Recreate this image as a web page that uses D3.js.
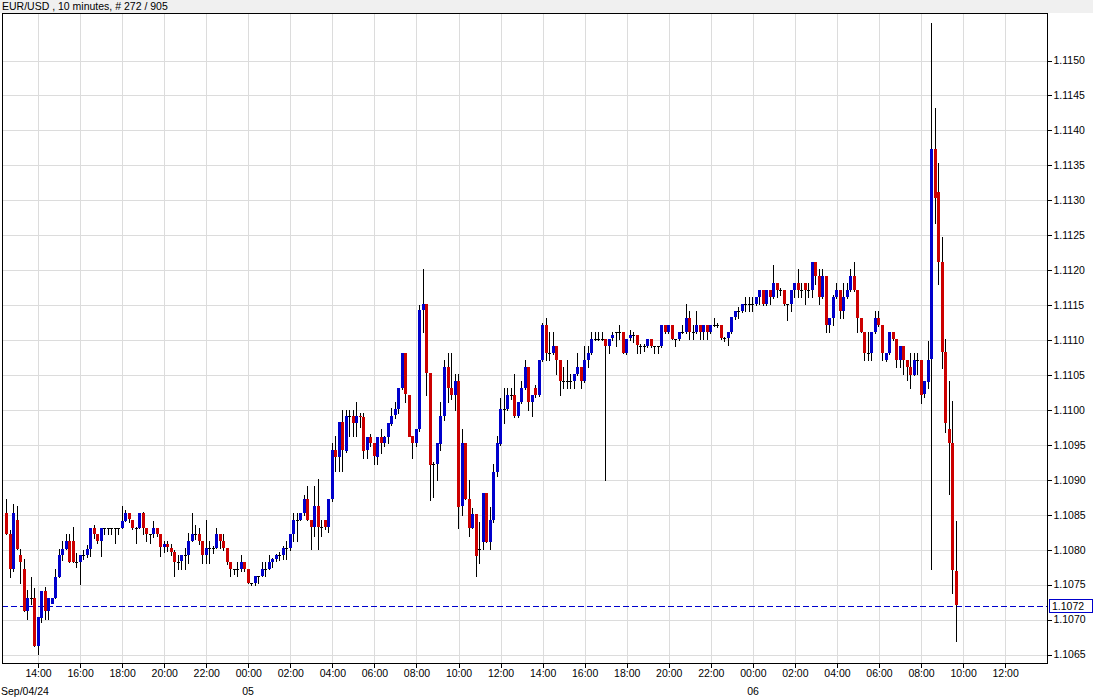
<!DOCTYPE html>
<html><head><meta charset="utf-8">
<script src="https://cdn.jsdelivr.net/npm/d3@7/dist/d3.min.js"></script>
<style>
html,body{margin:0;padding:0;background:#fff;}
svg{display:block;}
text{font-family:"Liberation Sans",Arial,sans-serif;}
</style></head>
<body>
<svg id="chart" width="1093" height="700"></svg>
<script>
const chartTitle = "EUR/USD , 10 minutes, # 272 / 905";
const firstBarTime = "2024-09-04T12:30:00Z";
const barMinutes = 10;

const openPx = [
1.10852,1.10822,1.10772,1.10842,1.10792,1.10772,1.10712,1.10731,1.10731,1.10662,
1.10703,1.10741,1.10712,1.10723,1.10731,1.10761,1.10792,1.10801,1.10812,1.10812,
1.10782,1.10782,1.10792,1.10792,1.10801,1.10831,1.10822,1.10812,1.10831,1.10831,
1.10831,1.10831,1.10831,1.10831,1.10841,1.10852,1.10843,1.10831,1.10831,1.10852,
1.10831,1.10822,1.10822,1.10831,1.10822,1.10803,1.10808,1.10803,1.10797,1.10783,
1.10783,1.10792,1.10792,1.10812,1.10822,1.10822,1.10812,1.10792,1.10802,1.10802,
1.10802,1.10822,1.10812,1.10802,1.10782,1.10772,1.10772,1.10772,1.10782,1.10772,
1.10752,1.10752,1.10762,1.10762,1.10772,1.10772,1.10782,1.10786,1.10792,1.10792,
1.10802,1.10802,1.10822,1.10842,1.10842,1.10852,1.10872,1.10842,1.10832,1.10862,
1.10832,1.10842,1.10832,1.10872,1.10942,1.10932,1.10982,1.10942,1.10992,1.10992,
1.10982,1.10992,1.10990,1.10942,1.10961,1.10952,1.10933,1.10961,1.10952,1.10961,
1.10981,1.10992,1.11001,1.11031,1.11081,1.11022,1.10962,1.10952,1.10972,1.11143,
1.11152,1.11053,1.10922,1.10922,1.10952,1.10992,1.11062,1.11032,1.11022,1.11042,
1.10862,1.10952,1.10872,1.10831,1.10851,1.10801,1.10811,1.10881,1.10811,1.10842,
1.10911,1.10952,1.11002,1.11002,1.11022,1.11022,1.10992,1.11012,1.11032,1.11062,
1.11012,1.11032,1.11022,1.11072,1.11122,1.11082,1.11082,1.11092,1.11072,1.11042,
1.11042,1.11042,1.11042,1.11052,1.11062,1.11042,1.11072,1.11082,1.11102,1.11102,
1.11102,1.11102,1.11092,1.11102,1.11112,1.11112,1.11112,1.11082,1.11102,1.11107,
1.11107,1.11092,1.11092,1.11092,1.11102,1.11092,1.11092,1.11092,1.11122,1.11112,
1.11122,1.11102,1.11102,1.11112,1.11112,1.11132,1.11112,1.11112,1.11122,1.11112,
1.11122,1.11112,1.11122,1.11122,1.11122,1.11103,1.11103,1.11112,1.11133,1.11142,
1.11142,1.11152,1.11152,1.11152,1.11152,1.11162,1.11172,1.11152,1.11172,1.11162,
1.11182,1.11172,1.11172,1.11152,1.11152,1.11172,1.11182,1.11172,1.11182,1.11172,
1.11172,1.11212,1.11192,1.11162,1.11192,1.11122,1.11132,1.11162,1.11172,1.11142,
1.11162,1.11172,1.11192,1.11172,1.11132,1.11112,1.11082,1.11082,1.11112,1.11132,
1.11122,1.11072,1.11082,1.11112,1.11102,1.11072,1.11092,1.11072,1.11062,1.11051,
1.11072,1.11072,1.11022,1.11041,1.11072,1.11373,1.11312,1.11212,1.11083,1.10972,
1.10952,1.10770];

const highPx = [
1.10873,1.10828,1.10865,1.10863,1.10801,1.10786,1.10743,1.10761,1.10745,1.10703,
1.10741,1.10746,1.10731,1.10731,1.10772,1.10801,1.10812,1.10822,1.10822,1.10833,
1.10795,1.10792,1.10800,1.10806,1.10831,1.10836,1.10822,1.10831,1.10831,1.10831,
1.10831,1.10831,1.10831,1.10862,1.10857,1.10852,1.10843,1.10833,1.10852,1.10854,
1.10831,1.10822,1.10841,1.10831,1.10822,1.10812,1.10813,1.10808,1.10799,1.10792,
1.10792,1.10803,1.10824,1.10852,1.10835,1.10831,1.10812,1.10843,1.10812,1.10805,
1.10831,1.10822,1.10822,1.10802,1.10782,1.10772,1.10782,1.10792,1.10782,1.10772,
1.10752,1.10762,1.10762,1.10782,1.10782,1.10792,1.10788,1.10794,1.10797,1.10805,
1.10812,1.10822,1.10852,1.10852,1.10852,1.10878,1.10891,1.10842,1.10891,1.10901,
1.10842,1.10842,1.10872,1.10952,1.10962,1.10982,1.11000,1.11000,1.11000,1.11000,
1.11012,1.10996,1.10996,1.10961,1.10965,1.10952,1.10961,1.10972,1.10963,1.10981,
1.11003,1.11012,1.11031,1.11081,1.11081,1.11022,1.10962,1.10972,1.11150,1.11202,
1.11152,1.11053,1.10925,1.10952,1.11012,1.11072,1.11081,1.11081,1.11052,1.11052,
1.10972,1.10952,1.10899,1.10860,1.10851,1.10840,1.10881,1.10881,1.10861,1.10922,
1.10962,1.11017,1.11032,1.11032,1.11032,1.11052,1.11012,1.11042,1.11072,1.11062,
1.11022,1.11035,1.11072,1.11124,1.11132,1.11112,1.11112,1.11092,1.11072,1.11062,
1.11072,1.11052,1.11052,1.11082,1.11062,1.11092,1.11092,1.11112,1.11112,1.11112,
1.11112,1.11102,1.11102,1.11112,1.11112,1.11122,1.11112,1.11102,1.11114,1.11112,
1.11107,1.11095,1.11094,1.11102,1.11102,1.11092,1.11092,1.11122,1.11122,1.11122,
1.11122,1.11102,1.11112,1.11122,1.11152,1.11142,1.11122,1.11142,1.11122,1.11122,
1.11122,1.11122,1.11132,1.11125,1.11122,1.11105,1.11112,1.11133,1.11142,1.11147,
1.11152,1.11162,1.11162,1.11162,1.11162,1.11172,1.11172,1.11172,1.11172,1.11208,
1.11182,1.11175,1.11172,1.11152,1.11172,1.11182,1.11202,1.11182,1.11182,1.11182,
1.11212,1.11212,1.11202,1.11202,1.11192,1.11132,1.11165,1.11182,1.11172,1.11182,
1.11182,1.11202,1.11212,1.11172,1.11132,1.11112,1.11112,1.11112,1.11142,1.11142,
1.11122,1.11082,1.11112,1.11112,1.11102,1.11092,1.11092,1.11072,1.11081,1.11081,
1.11081,1.11072,1.11041,1.11099,1.11554,1.11432,1.11353,1.11247,1.11101,1.11042,
1.11013,1.10841];

const lowPx = [
1.10822,1.10761,1.10770,1.10801,1.10752,1.10712,1.10701,1.10722,1.10662,1.10651,
1.10696,1.10701,1.10701,1.10723,1.10731,1.10761,1.10785,1.10801,1.10782,1.10782,
1.10775,1.10751,1.10786,1.10790,1.10791,1.10817,1.10809,1.10791,1.10822,1.10822,
1.10822,1.10810,1.10822,1.10831,1.10841,1.10840,1.10830,1.10809,1.10831,1.10822,
1.10812,1.10809,1.10818,1.10820,1.10791,1.10796,1.10798,1.10793,1.10762,1.10772,
1.10772,1.10772,1.10781,1.10812,1.10815,1.10808,1.10781,1.10781,1.10781,1.10795,
1.10802,1.10802,1.10800,1.10780,1.10762,1.10765,1.10762,1.10770,1.10770,1.10752,
1.10750,1.10750,1.10752,1.10762,1.10762,1.10772,1.10775,1.10784,1.10785,1.10786,
1.10786,1.10800,1.10812,1.10812,1.10842,1.10850,1.10842,1.10801,1.10819,1.10801,
1.10819,1.10830,1.10825,1.10870,1.10912,1.10912,1.10912,1.10940,1.10963,1.10962,
1.10962,1.10975,1.10931,1.10931,1.10948,1.10922,1.10922,1.10938,1.10948,1.10952,
1.10978,1.10988,1.10995,1.11030,1.11012,1.10962,1.10931,1.10948,1.10970,1.11111,
1.11022,1.10871,1.10876,1.10900,1.10942,1.10985,1.11012,1.11015,1.11000,1.10831,
1.10850,1.10872,1.10820,1.10831,1.10762,1.10781,1.10801,1.10811,1.10801,1.10840,
1.10905,1.10950,1.10981,1.11000,1.11015,1.10990,1.10990,1.11010,1.11030,1.11000,
1.10992,1.11018,1.11020,1.11070,1.11072,1.11072,1.11080,1.11052,1.11022,1.11032,
1.11032,1.11032,1.11032,1.11050,1.11032,1.11040,1.11062,1.11080,1.11100,1.11100,
1.11100,1.10900,1.11082,1.11100,1.11092,1.11102,1.11082,1.11080,1.11100,1.11097,
1.11082,1.11082,1.11085,1.11090,1.11090,1.11082,1.11082,1.11090,1.11110,1.11110,
1.11102,1.11092,1.11100,1.11110,1.11110,1.11102,1.11102,1.11110,1.11102,1.11102,
1.11102,1.11110,1.11120,1.11118,1.11102,1.11098,1.11093,1.11110,1.11130,1.11132,
1.11140,1.11142,1.11142,1.11142,1.11150,1.11152,1.11150,1.11150,1.11152,1.11160,
1.11162,1.11165,1.11150,1.11128,1.11142,1.11162,1.11162,1.11162,1.11152,1.11162,
1.11162,1.11180,1.11152,1.11160,1.11112,1.11112,1.11122,1.11160,1.11132,1.11132,
1.11160,1.11170,1.11170,1.11112,1.11112,1.11072,1.11072,1.11072,1.11110,1.11120,
1.11072,1.11070,1.11080,1.11100,1.11062,1.11062,1.11052,1.11043,1.11031,1.11050,
1.11051,1.11010,1.11019,1.11031,1.10772,1.11268,1.11180,1.11060,1.10969,1.10879,
1.10738,1.10670];

const closePx = [
1.10822,1.10772,1.10852,1.10801,1.10782,1.10712,1.10731,1.10731,1.10662,1.10703,
1.10741,1.10712,1.10731,1.10731,1.10761,1.10792,1.10801,1.10812,1.10782,1.10782,
1.10782,1.10792,1.10792,1.10801,1.10831,1.10822,1.10812,1.10831,1.10831,1.10831,
1.10831,1.10831,1.10831,1.10841,1.10852,1.10843,1.10831,1.10831,1.10852,1.10831,
1.10822,1.10822,1.10831,1.10822,1.10803,1.10808,1.10803,1.10797,1.10783,1.10783,
1.10792,1.10792,1.10812,1.10822,1.10822,1.10812,1.10792,1.10802,1.10802,1.10802,
1.10822,1.10812,1.10802,1.10782,1.10772,1.10772,1.10772,1.10782,1.10772,1.10752,
1.10752,1.10762,1.10762,1.10772,1.10772,1.10782,1.10786,1.10792,1.10792,1.10802,
1.10802,1.10822,1.10842,1.10842,1.10852,1.10872,1.10842,1.10832,1.10862,1.10832,
1.10832,1.10832,1.10872,1.10942,1.10932,1.10982,1.10942,1.10992,1.10992,1.10982,
1.10992,1.10990,1.10942,1.10961,1.10952,1.10933,1.10961,1.10952,1.10961,1.10981,
1.10992,1.11001,1.11031,1.11081,1.11022,1.10962,1.10952,1.10972,1.11143,1.11152,
1.11053,1.10922,1.10922,1.10952,1.10992,1.11062,1.11032,1.11022,1.11042,1.10862,
1.10952,1.10872,1.10831,1.10851,1.10791,1.10801,1.10881,1.10811,1.10842,1.10911,
1.10952,1.11002,1.11002,1.11022,1.11022,1.10992,1.11012,1.11032,1.11062,1.11012,
1.11022,1.11022,1.11072,1.11122,1.11082,1.11082,1.11092,1.11072,1.11042,1.11042,
1.11042,1.11042,1.11052,1.11062,1.11042,1.11072,1.11082,1.11102,1.11102,1.11102,
1.11102,1.11092,1.11102,1.11107,1.11112,1.11112,1.11082,1.11102,1.11107,1.11107,
1.11092,1.11092,1.11092,1.11102,1.11092,1.11092,1.11092,1.11122,1.11112,1.11122,
1.11102,1.11102,1.11112,1.11112,1.11132,1.11112,1.11112,1.11122,1.11112,1.11122,
1.11112,1.11122,1.11122,1.11122,1.11103,1.11103,1.11112,1.11133,1.11142,1.11142,
1.11152,1.11152,1.11152,1.11152,1.11162,1.11172,1.11152,1.11172,1.11162,1.11182,
1.11172,1.11172,1.11152,1.11152,1.11172,1.11182,1.11172,1.11172,1.11172,1.11172,
1.11212,1.11192,1.11162,1.11192,1.11122,1.11132,1.11162,1.11172,1.11142,1.11162,
1.11172,1.11192,1.11172,1.11132,1.11112,1.11082,1.11082,1.11112,1.11132,1.11122,
1.11082,1.11082,1.11112,1.11102,1.11072,1.11092,1.11072,1.11062,1.11051,1.11072,
1.11072,1.11022,1.11041,1.11072,1.11373,1.11303,1.11212,1.11083,1.10981,1.10952,
1.10770,1.10722];

const priceTicks = [1.1065,1.1070,1.1075,1.1080,1.1085,1.1090,1.1095,1.1100,1.1105,
  1.1110,1.1115,1.1120,1.1125,1.1130,1.1135,1.1140,1.1145,1.1150];
const hourTickLabels = ["14:00","16:00","18:00","20:00","22:00","00:00","02:00","04:00",
  "06:00","08:00","10:00","12:00","14:00","16:00","18:00","20:00","22:00","00:00",
  "02:00","04:00","06:00","08:00","10:00","12:00"];
const firstHourTick = "2024-09-04T14:00:00Z";
const dayTickLabels = ["Sep/04/24","05","06"];
const dayTickTimes = ["2024-09-04T12:30:00Z","2024-09-05T00:00:00Z","2024-09-06T00:00:00Z"];
const lastPrice = 1.1072;

// ---------- layout ----------
const W = 1093, H = 700;
const frame = {left: 2, top: 13, right: 1047, bottom: 663};
const slots = 297; // visible bar slots across the plot
const barMs = barMinutes * 60000;
const t0 = new Date(firstBarTime).getTime();
const bars = openPx.map((o, i) => ({
  t: new Date(t0 + i * barMs), o, h: highPx[i], l: lowPx[i], c: closePx[i]
}));
const FS = 10.5;

const x = d3.scaleUtc()
  .domain([new Date(t0), new Date(t0 + slots * barMs)])
  .range([6.5, 6.5 + slots * 3.504]);
const y = d3.scaleLinear().domain([1.1065, 1.1150]).range([654.5, 60.5]);

const svg = d3.select("#chart").attr("shape-rendering", "crispEdges");

// header band
svg.append("rect").attr("x", 0).attr("y", 0).attr("width", W).attr("height", frame.top)
  .attr("fill", "#f0f0f0");
svg.append("text").attr("x", 2).attr("y", 10).attr("font-size", FS).attr("fill", "#000")
  .text(chartTitle);

// grid
const hourTicks = hourTickLabels.map((_, k) => new Date(new Date(firstHourTick).getTime() + k * 2 * 3600000));
const grid = svg.append("g").attr("stroke", "#dcdcdc").attr("stroke-width", 1);
grid.selectAll("line.v").data(hourTicks).join("line")
  .attr("x1", d => Math.round(x(d)) + 0.5).attr("x2", d => Math.round(x(d)) + 0.5)
  .attr("y1", frame.top).attr("y2", frame.bottom);
grid.selectAll("line.h").data(priceTicks).join("line").attr("class", "h")
  .attr("x1", frame.left).attr("x2", frame.right)
  .attr("y1", d => Math.round(y(d)) + 0.5).attr("y2", d => Math.round(y(d)) + 0.5);

// last price dashed line
svg.append("line")
  .attr("x1", frame.left).attr("x2", frame.right)
  .attr("y1", Math.round(y(lastPrice)) + 0.5).attr("y2", Math.round(y(lastPrice)) + 0.5)
  .attr("stroke", "#0000cc").attr("stroke-dasharray", "6,3");

// candles
const cg = svg.append("g");
const px = d => Math.floor(x(d.t));
cg.selectAll("line.w").data(bars).join("line").attr("class", "w")
  .attr("x1", d => px(d) + 0.5).attr("x2", d => px(d) + 0.5)
  .attr("y1", d => Math.round(y(d.h))).attr("y2", d => Math.round(y(d.l)) + 1)
  .attr("stroke", "#000");
cg.selectAll("rect.b").data(bars).join("rect").attr("class", "b")
  .attr("x", d => px(d) - 1).attr("width", 3)
  .attr("y", d => Math.round(Math.min(y(d.o), y(d.c))))
  .attr("height", d => Math.max(1, Math.round(Math.abs(y(d.o) - y(d.c)))))
  .attr("fill", d => Math.abs(d.o - d.c) < 0.000005 ? "#000" : (d.c > d.o ? "#0000cc" : "#cc0000"));

// frame
svg.append("rect").attr("x", frame.left + 0.5).attr("y", frame.top + 0.5)
  .attr("width", frame.right - frame.left).attr("height", frame.bottom - frame.top)
  .attr("fill", "none").attr("stroke", "#000");

// right price axis
const yAxis = d3.axisRight(y).tickValues(priceTicks).tickFormat(d3.format(".4f"))
  .tickSize(4).tickPadding(2);
const ya = svg.append("g").attr("transform", `translate(${frame.right + 0.5},0)`).call(yAxis);
ya.select(".domain").remove();
ya.selectAll("text").attr("font-size", FS).attr("font-family", "Liberation Sans, Arial, sans-serif").attr("fill", "#000");
ya.selectAll(".tick line").attr("stroke", "#000");

// bottom time axis
const xAxis = d3.axisBottom(x).tickValues(hourTicks).tickFormat((d, k) => hourTickLabels[k])
  .tickSize(4).tickPadding(2);
const xa = svg.append("g").attr("transform", `translate(0,${frame.bottom + 0.5})`).call(xAxis);
xa.select(".domain").remove();
xa.selectAll("text").attr("font-size", FS).attr("font-family", "Liberation Sans, Arial, sans-serif").attr("fill", "#000");
xa.selectAll(".tick line").attr("stroke", "#000");

// day labels
svg.selectAll("text.day").data(dayTickLabels).join("text").attr("class", "day")
  .attr("x", (d, k) => k === 0 ? 1 : Math.round(x(new Date(dayTickTimes[k]))))
  .attr("text-anchor", (d, k) => k === 0 ? "start" : "middle")
  .attr("y", 695).attr("font-size", FS).attr("fill", "#000").text(d => d);

// last price box
const ly = Math.round(y(lastPrice));
svg.append("rect").attr("x", frame.right + 2.5).attr("y", ly - 6.5).attr("width", 43).attr("height", 13)
  .attr("fill", "#fff").attr("stroke", "#0000cc");
svg.append("text").attr("x", frame.right + 5).attr("y", ly + 4).attr("font-size", FS).attr("fill", "#000")
  .text(d3.format(".4f")(lastPrice));
</script>
</body></html>
